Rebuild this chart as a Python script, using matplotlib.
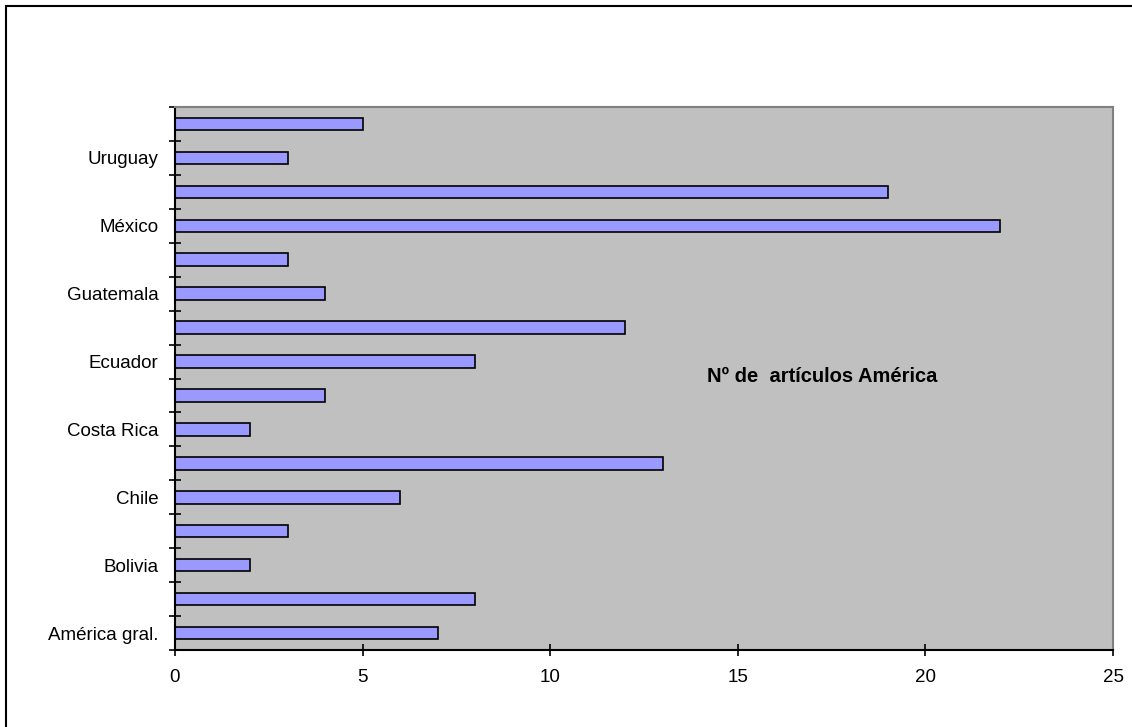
import numpy as np
import matplotlib.pyplot as plt
from matplotlib.patches import Rectangle

plt.rcParams['font.family'] = ['Liberation Sans', 'DejaVu Sans']

paises = ["América gral.", "Argentina", "Bolivia", "Brasil", "Chile", "Colombia",
          "Costa Rica", "Cuba", "Ecuador", "España", "Guatemala", "Honduras",
          "México", "Perú", "Uruguay", "Venezuela"]
articulos = [7, 8, 2, 3, 6, 13, 2, 4, 8, 12, 4, 3, 22, 19, 3, 5]
xticks = [0, 5, 10, 15, 20, 25]

W, H = 1132, 727
fig = plt.figure(figsize=(W/100, H/100), dpi=100)
fig.patch.set_facecolor("white")

# marco del grafico
fig.patches.append(Rectangle((6/W, -0.05), 1.1, 1 - 6/H + 0.05, transform=fig.transFigure,
                             fill=False, edgecolor="black", linewidth=1.5))

ax = fig.add_axes([175/W, 1 - 650/H, (1113-175)/W, (650-107)/H])
ax.set_facecolor("#C0C0C0")

y = np.arange(len(paises))
ax.barh(y, articulos, height=0.37, color="#9999FF", edgecolor="black", linewidth=1.2)

ax.set_xlim(0, 25)
ax.set_ylim(-0.5, len(paises) - 0.5)
ax.set_xticks(xticks)
ax.set_xticklabels([str(t) for t in xticks], fontsize=13.5)

ax.set_yticks(y[::2])
ax.set_yticklabels(paises[::2], fontsize=13.5)
ax.set_yticks(np.arange(-0.5, len(paises)), minor=True)
ax.tick_params(axis="y", which="major", length=0, pad=12)
ax.tick_params(axis="y", which="minor", length=8, direction="inout", width=1.2)
ax.tick_params(axis="x", which="major", length=9, direction="inout", width=1.2, pad=9)

for s in ["top", "right"]:
    ax.spines[s].set_color("#808080")
    ax.spines[s].set_linewidth(1.5)
for s in ["left", "bottom"]:
    ax.spines[s].set_color("black")
    ax.spines[s].set_linewidth(1.5)

fig.text(822/W, 1 - 377/H, "Nº de  artículos América", fontsize=14.5,
         fontweight="bold", ha="center", va="center")

fig.savefig("out.png", dpi=100)
